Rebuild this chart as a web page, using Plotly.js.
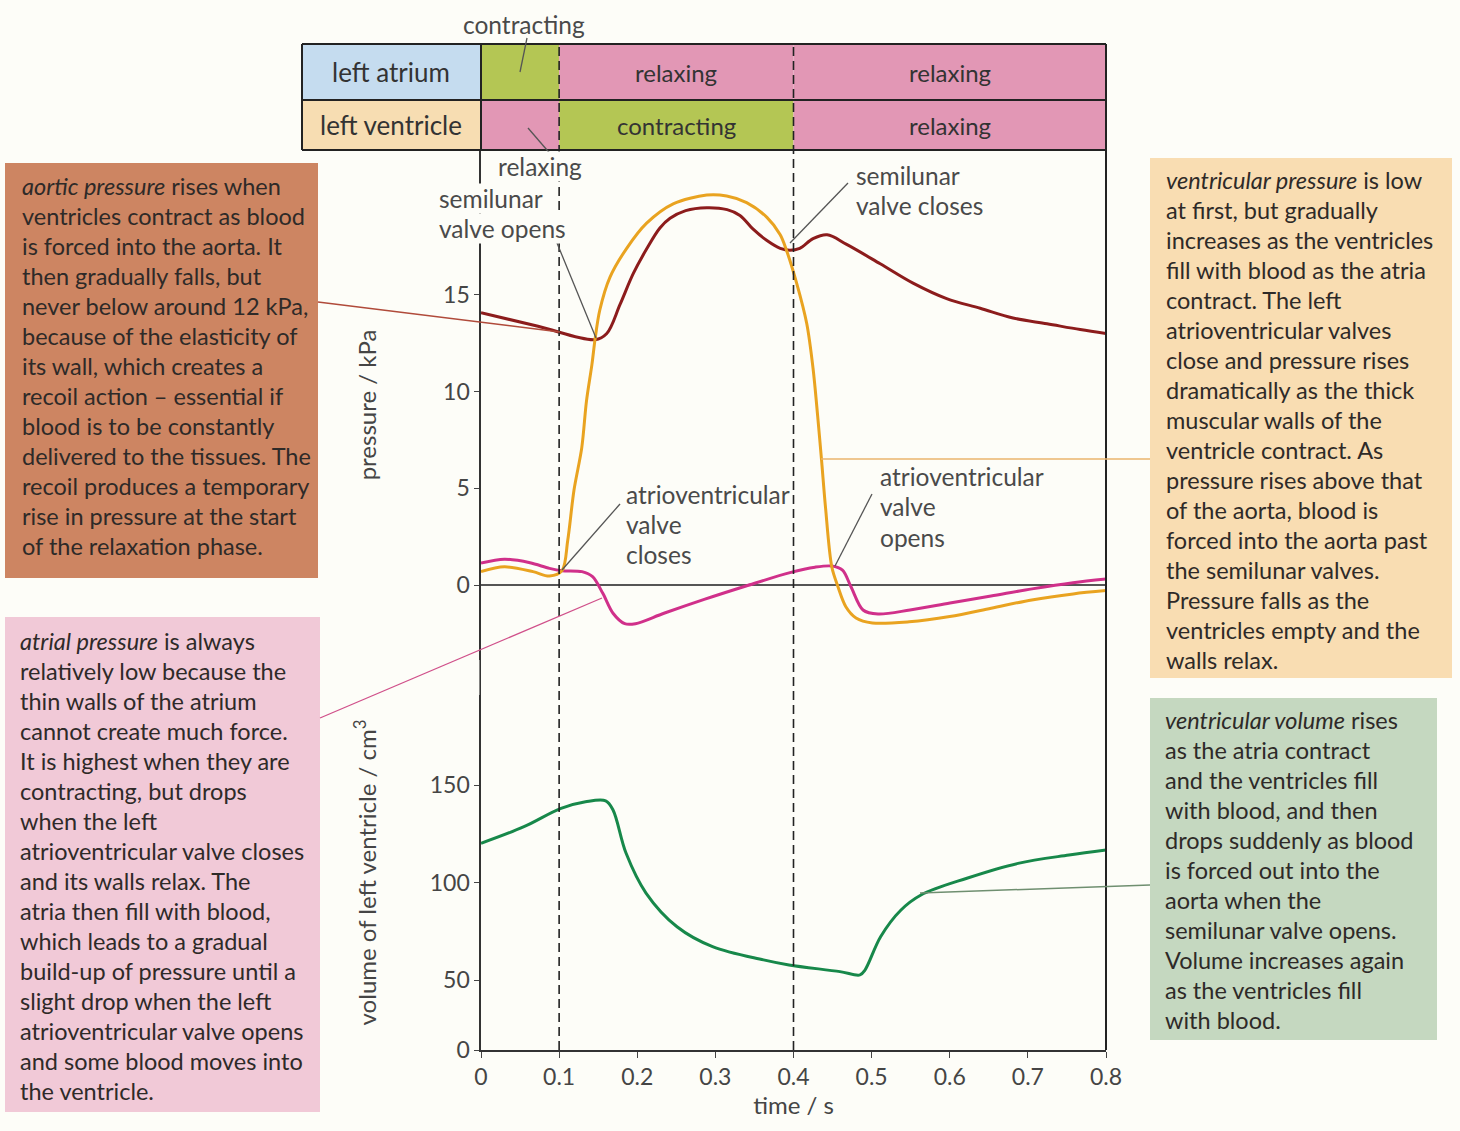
<!DOCTYPE html>
<html>
<head>
<meta charset="utf-8">
<script src="https://cdn.plot.ly/plotly-3.0.1.min.js"></script>
<style>html,body{margin:0;padding:0;background:#fdfdf8;}#chart{width:1460px;height:1131px;}</style>
</head>
<body>
<div id="chart"></div>
<script>
// ---------- data ----------
const aorticT = [0, 0.073, 0.146, 0.161, 0.178, 0.195, 0.2125, 0.229, 0.242, 0.262, 0.289, 0.315, 0.3315, 0.348, 0.366, 0.383, 0.3955, 0.408, 0.425, 0.443, 0.468, 0.511, 0.553, 0.596, 0.639, 0.681, 0.7245, 0.767, 0.80];
const aorticP = [14.07, 13.37, 12.68, 13.0, 14.5, 16.1, 17.4, 18.45, 18.95, 19.35, 19.5, 19.4, 19.1, 18.4, 17.8, 17.4, 17.3, 17.4, 17.9, 18.1, 17.6, 16.6, 15.6, 14.8, 14.3, 13.8, 13.5, 13.2, 13.0];

const ventT = [0, 0.030, 0.0666, 0.0877, 0.1037, 0.111, 0.119, 0.129, 0.135, 0.142, 0.146, 0.152, 0.165, 0.1865, 0.212, 0.246, 0.289, 0.3145, 0.340, 0.366, 0.383, 0.391, 0.404, 0.417, 0.425, 0.431, 0.436, 0.441, 0.449, 0.457, 0.467, 0.480, 0.501, 0.548, 0.600, 0.653, 0.705, 0.758, 0.80];
const ventP = [0.69, 0.94, 0.69, 0.46, 0.74, 2.3, 4.9, 7.1, 9.5, 11.4, 12.7, 14.2, 15.9, 17.4, 18.7, 19.7, 20.15, 20.1, 19.76, 19.0, 18.1, 17.3, 15.6, 13.5, 11.2, 8.7, 6.4, 4.0, 0.94, -0.1, -1.12, -1.7, -1.96, -1.9, -1.63, -1.2, -0.77, -0.46, -0.29];

const atrialT = [0, 0.030, 0.0627, 0.0877, 0.1037, 0.1293, 0.1428, 0.1559, 0.169, 0.184, 0.1977, 0.2342, 0.2867, 0.3392, 0.3955, 0.4275, 0.449, 0.4627, 0.4736, 0.489, 0.5082, 0.5491, 0.6003, 0.6528, 0.7053, 0.7578, 0.80];
const atrialP = [1.13, 1.33, 1.15, 0.86, 0.74, 0.69, 0.43, -0.43, -1.46, -2.0, -2.0, -1.46, -0.73, -0.05, 0.64, 0.92, 0.98, 0.77, -0.09, -1.29, -1.5, -1.29, -0.93, -0.57, -0.2, 0.12, 0.31];

const volT = [0, 0.055, 0.1024, 0.1338, 0.1596, 0.169, 0.1856, 0.2112, 0.2509, 0.2964, 0.3616, 0.3942, 0.4595, 0.4851, 0.4915, 0.5115, 0.5376, 0.5632, 0.622, 0.6874, 0.7526, 0.80];
const volV = [120.1, 128.6, 138.0, 141.4, 141.9, 137.2, 115.1, 94.6, 77.3, 67.1, 60.3, 57.7, 54.3, 52.6, 55.1, 72.2, 85.9, 93.6, 102.2, 109.8, 114.1, 116.7];

const xTickVals = [0, 0.1, 0.2, 0.3, 0.4, 0.5, 0.6, 0.7, 0.8];
const xTickText = ['0', '0.1', '0.2', '0.3', '0.4', '0.5', '0.6', '0.7', '0.8'];
const pTickVals = [0, 5, 10, 15];
const vTickText = ['0', '50', '100', '150'];
const vTickVals = [14.1, 50, 100, 150];

// phase table
const phaseBounds = [0, 0.1, 0.4, 0.8];
const atriumPhases = ['contracting', 'relaxing', 'relaxing'];
const ventriclePhases = ['relaxing', 'contracting', 'relaxing'];
const atriumLabels = ['', 'relaxing', 'relaxing'];
const ventricleLabels = ['', 'contracting', 'relaxing'];

// explanatory texts
const aorticLines = ['<i>aortic pressure</i> rises when', 'ventricles contract as blood', 'is forced into the aorta. It', 'then gradually falls, but', 'never below around 12 kPa,', 'because of the elasticity of', 'its wall, which creates a', 'recoil action – essential if', 'blood is to be constantly', 'delivered to the tissues. The', 'recoil produces a temporary', 'rise in pressure at the start', 'of the relaxation phase.'];
const atrialLines = ['<i>atrial pressure</i> is always', 'relatively low because the', 'thin walls of the atrium', 'cannot create much force.', 'It is highest when they are', 'contracting, but drops', 'when the left', 'atrioventricular valve closes', 'and its walls relax. The', 'atria then fill with blood,', 'which leads to a gradual', 'build-up of pressure until a', 'slight drop when the left', 'atrioventricular valve opens', 'and some blood moves into', 'the ventricle.'];
const ventLines = ['<i>ventricular pressure</i> is low', 'at first, but gradually', 'increases as the ventricles', 'fill with blood as the atria', 'contract. The left', 'atrioventricular valves', 'close and pressure rises', 'dramatically as the thick', 'muscular walls of the', 'ventricle contract. As', 'pressure rises above that', 'of the aorta, blood is', 'forced into the aorta past', 'the semilunar valves.', 'Pressure falls as the', 'ventricles empty and the', 'walls relax.'];
const volLines = ['<i>ventricular volume</i> rises', 'as the atria contract', 'and the ventricles fill', 'with blood, and then', 'drops suddenly as blood', 'is forced out into the', 'aorta when the', 'semilunar valve opens.', 'Volume increases again', 'as the ventricles fill', 'with blood.'];

// ---------- layout helpers ----------
const W = 1460, H = 1131;
const L = 481, R = 1106, T = 150, B = 1050;
const xp = px => (px - L) / (R - L);
const yp = py => (B - py) / (B - T);
const FONT = 'Lato, "Open Sans", sans-serif';
const BG = '#fdfdf8';
const COL = {green: '#b4c654', pink: '#e297b5', blue: '#c5dcef', beige: '#f7ddb2'};
const P_BOTTOM = 660, V_TOP = 695; // pixel edges of the two y domains

const shapes = [];
const annotations = [];

// table cells
const rowTop = [44, 100], rowBot = [100, 150];
const rowsPh = [atriumPhases, ventriclePhases];
const rowsLab = [atriumLabels, ventricleLabels];
const labelCol = [COL.blue, COL.beige];
const rowNames = ['left atrium', 'left ventricle'];
for (let r = 0; r < 2; r++) {
  shapes.push({type: 'rect', xref: 'paper', yref: 'paper', x0: xp(302), x1: 0, y0: yp(rowBot[r]), y1: yp(rowTop[r]), fillcolor: labelCol[r], line: {width: 0}, layer: 'below'});
  annotations.push({xref: 'paper', yref: 'paper', x: xp(391), y: yp((rowTop[r] + rowBot[r]) / 2), xanchor: 'center', yanchor: 'middle', text: rowNames[r], showarrow: false, font: {family: FONT, size: 26, color: '#333'}});
  for (let c = 0; c < 3; c++) {
    shapes.push({type: 'rect', xref: 'x', yref: 'paper', x0: phaseBounds[c], x1: phaseBounds[c + 1], y0: yp(rowBot[r]), y1: yp(rowTop[r]), fillcolor: rowsPh[r][c] === 'contracting' ? COL.green : COL.pink, line: {width: 0}, layer: 'below'});
    if (rowsLab[r][c]) {
      annotations.push({xref: 'x', yref: 'paper', x: (phaseBounds[c] + phaseBounds[c + 1]) / 2, y: yp((rowTop[r] + rowBot[r]) / 2), xanchor: 'center', yanchor: 'middle', text: rowsLab[r][c], showarrow: false, font: {family: FONT, size: 24, color: '#333'}});
    }
  }
}
// table borders
[44, 100, 150].forEach(py => shapes.push({type: 'line', xref: 'paper', yref: 'paper', x0: xp(302), x1: 1, y0: yp(py), y1: yp(py), line: {color: '#222', width: 2}}));
shapes.push({type: 'line', xref: 'paper', yref: 'paper', x0: xp(302), x1: xp(302), y0: yp(150), y1: yp(44), line: {color: '#222', width: 2}});
shapes.push({type: 'line', xref: 'paper', yref: 'paper', x0: 0, x1: 0, y0: yp(150), y1: yp(44), line: {color: '#222', width: 2}});
shapes.push({type: 'line', xref: 'paper', yref: 'paper', x0: 1, x1: 1, y0: 0, y1: yp(44), line: {color: '#222', width: 2}});
// left axis line across the gap between the two y domains
shapes.push({type: 'line', xref: 'paper', yref: 'paper', x0: xp(L - 0.8), x1: xp(L - 0.8), y0: yp(V_TOP + 1), y1: yp(P_BOTTOM - 1), line: {color: '#333', width: 1.6}});
// dashed phase lines
[0.1, 0.4].forEach(t => shapes.push({type: 'line', xref: 'x', yref: 'paper', x0: t, x1: t, y0: 0, y1: yp(44), line: {color: '#222', width: 1.6, dash: '9px,5px'}}));

// text boxes
function box(x0, y0, x1, y1, color, lines, tx, ty) {
  shapes.push({type: 'rect', xref: 'paper', yref: 'paper', x0: xp(x0), x1: xp(x1), y0: yp(y1), y1: yp(y0), fillcolor: color, line: {width: 0}, layer: 'below'});
  lines.forEach((s, i) => annotations.push({xref: 'paper', yref: 'paper', x: xp(tx), y: yp(ty + 30 * i), xanchor: 'left', yanchor: 'middle', text: s, showarrow: false, font: {family: FONT, size: 23.5, color: '#2e2a28'}}));
}
box(5, 163, 318, 578, '#cd8562', aorticLines, 20, 186);
box(5, 617, 320, 1112, '#f1c9d7', atrialLines, 18, 641);
box(1150, 158, 1452, 678, '#f9ddb2', ventLines, 1164, 180);
box(1150, 698, 1437, 1040, '#c5d8c0', volLines, 1163, 720);

// pointer lines
function seg(x0, y0, x1, y1, color, w) {
  shapes.push({type: 'line', xref: 'paper', yref: 'paper', x0: xp(x0), y0: yp(y0), x1: xp(x1), y1: yp(y1), line: {color: color, width: w}});
}
seg(318, 302, 560, 332, '#b04a3a', 1.5);
seg(320, 718, 602, 598, '#d0508a', 1.3);
seg(821, 459, 1150, 459, '#eab46e', 1.6);
seg(920, 893, 1150, 885, '#6f8f70', 1.5);
seg(527, 38, 520, 72, '#555', 1.3);
seg(528, 128, 553, 157, '#555', 1.3);
seg(557, 243, 596, 338, '#555', 1.3);
seg(848, 183, 790, 243, '#555', 1.3);
seg(620, 504, 562, 570, '#555', 1.3);
seg(872, 494, 835, 566, '#555', 1.3);

// curve labels
function lab(text, px, py, anchor, bg) {
  annotations.push({xref: 'paper', yref: 'paper', x: xp(px), y: yp(py), xanchor: anchor, yanchor: 'middle', text: text, showarrow: false, bgcolor: bg || 'rgba(0,0,0,0)', borderpad: 0, font: {family: FONT, size: 24.5, color: '#4a4a4a'}});
}
lab('contracting', 524, 24, 'center');
lab('relaxing', 540, 167, 'center', BG);
lab('semilunar', 438, 198, 'left', BG);
lab('valve opens', 438, 228, 'left', BG);
lab('semilunar', 855, 176, 'left');
lab('valve closes', 855, 206, 'left');
lab('atrioventricular', 625, 494, 'left');
lab('valve', 625, 524, 'left');
lab('closes', 625, 554, 'left');
lab('atrioventricular', 879, 477, 'left');
lab('valve', 879, 507, 'left');
lab('opens', 879, 537, 'left');

// ---------- traces ----------
const traces = [
  {x: aorticT, y: aorticP, type: 'scatter', mode: 'lines', name: 'aortic pressure', line: {color: '#8c1c1c', width: 3, shape: 'spline', smoothing: 1}, xaxis: 'x', yaxis: 'y'},
  {x: atrialT, y: atrialP, type: 'scatter', mode: 'lines', name: 'atrial pressure', line: {color: '#d0308a', width: 3, shape: 'spline', smoothing: 0.9}, xaxis: 'x', yaxis: 'y'},
  {x: ventT, y: ventP, type: 'scatter', mode: 'lines', name: 'ventricular pressure', line: {color: '#e9a320', width: 3, shape: 'spline', smoothing: 0.9}, xaxis: 'x', yaxis: 'y'},
  {x: volT, y: volV, type: 'scatter', mode: 'lines', name: 'ventricular volume', line: {color: '#17884a', width: 3, shape: 'spline', smoothing: 1}, xaxis: 'x', yaxis: 'y2'}
];

const axisFont = {family: FONT, size: 23, color: '#454545'};
const titleFont = {family: FONT, size: 24, color: '#454545'};
const layout = {
  width: W, height: H,
  margin: {l: L, r: W - R, t: T, b: H - B, pad: 0},
  paper_bgcolor: BG, plot_bgcolor: BG,
  showlegend: false,
  font: {family: FONT},
  xaxis: {range: [0, 0.8], tickvals: xTickVals, ticktext: xTickText, ticks: 'outside', ticklen: 6, tickcolor: '#444',
    showline: true, linecolor: '#333', linewidth: 1.6, showgrid: false, zeroline: false, anchor: 'y2',
    tickfont: axisFont, title: {text: 'time / s', font: titleFont, standoff: 8}},
  yaxis: {domain: [yp(P_BOTTOM), 1], range: [(585 - P_BOTTOM) / 19.35, 435 / 19.35], tickvals: pTickVals, ticks: 'outside', ticklen: 5, tickcolor: '#444',
    showline: true, linecolor: '#333', linewidth: 1.6, showgrid: false, zeroline: true, zerolinecolor: '#555', zerolinewidth: 1.2,
    anchor: 'x', tickfont: axisFont, title: {text: 'pressure / kPa', font: titleFont, standoff: 60}},
  yaxis2: {domain: [0, yp(V_TOP)], range: [14.1, 150 + (785 - V_TOP) / 1.95], tickvals: vTickVals, ticktext: vTickText, ticks: 'outside', ticklen: 5, tickcolor: '#444',
    showline: true, linecolor: '#333', linewidth: 1.6, showgrid: false, zeroline: false,
    anchor: 'x', tickfont: axisFont, title: {text: 'volume of left ventricle / cm<sup>3</sup>', font: titleFont, standoff: 46}},
  shapes: shapes,
  annotations: annotations
};

Plotly.newPlot('chart', traces, layout, {staticPlot: true});
</script>
</body>
</html>
